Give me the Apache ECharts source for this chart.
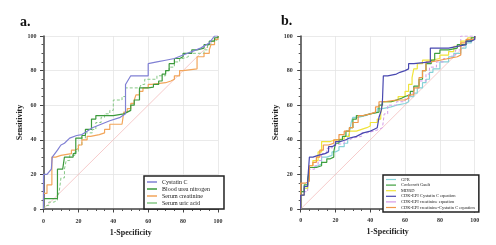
<!DOCTYPE html>
<html>
<head>
<meta charset="utf-8">
<script src="https://cdn.jsdelivr.net/npm/echarts@6/dist/echarts.min.js"></script>
<style>
  html, body { margin: 0; padding: 0; background: #fff; }
  #chart { width: 496px; height: 245px; }
</style>
</head>
<body>
<div id="chart"></div>
<script>
// axis ticks
const tickValues = [0, 20, 40, 60, 80, 100];
const diagonal = [[0, 0], [100, 100]];

// panel a.
const namesA = ["Cystatin C", "Blood urea nitrogen", "Serum creatinine", "Serum uric acid"];
const cystatinC = [[0,0],[0,20],[2,20],[4.5,23],[5,30],[8,34],[10,37],[12,38],[15,41],[19,42.5],[22,43],[25,45],[28,47],[33,49],[38,51],[44,53],[47,55],[47,72],[50,77],[60,77],[60,84],[65,85],[70,86],[75,87],[80,89],[85,91],[90,93],[95,96],[98,100],[100,100]];
const bloodUrea = [[0,0],[0,6],[8,6],[8,23],[11,24],[12,30],[17,32],[18.5,41],[22,42.5],[24,46],[27.5,52],[30,54],[40,55],[46,56],[48,57],[50,60],[52,63],[55,66],[55,70],[60,70.5],[63,72],[66,74],[68,78],[70,80],[72,84],[75,87],[78,88],[80,90],[85,92],[88,93],[92,95],[95,97],[98,99],[100,100]];
const serumCreat = [[0,0],[0,9],[2,9],[2,14],[4.8,14],[4.8,30],[7,31],[10,32],[16,34],[18,35],[20,37],[22,40],[25,42],[27,43],[32,44],[35,46],[38,49],[45,49],[46,56],[48,58],[50,61],[52,63],[53,66],[55,68],[57,70],[60,72],[62,73],[70,74],[73,75],[75,77],[78,80],[80,81],[88,81],[88,88],[92,90],[95,92],[96,95],[98,98],[100,100]];
const uricAcid = [[0,0],[1,2],[3,4],[6,5],[8,7],[9,10],[10,18],[12,23],[13,28],[15,31],[18,33],[20,37],[22,41],[24,44],[28,46],[30,50],[33,53],[35,55],[38,57],[40,63],[45,65],[47,70],[55,70],[56,72],[58,75],[62,75],[65,77],[70,80],[72,82],[75,85],[78,87],[80,88],[83,90],[90,90],[92,92],[94,95],[96,97],[98,98],[100,100]];

// panel b.
const namesB = ["GFR", "Cockcroft Gault", "MDRD", "CDK-EPI Cystatin C equation", "CDK-EPI creatinine equation", "CDK-EPI creatinine-Cystatin C equation"];
const gfr = [[0,0],[0,10],[2,12],[4,15],[5,24],[7,25],[10,26],[12,30],[15,31],[18,33],[20,34],[22,36],[25,38],[27,41],[28,44],[29,50],[30,53],[33,54],[37,55],[40,56],[44,58],[47,59],[52,60],[55,61],[60,62],[62,65],[65,67],[67,70],[70,73],[72,75],[74,79],[76,81],[80,85],[85,88],[88,90],[92,93],[95,96],[98,98],[100,100]];
const cockcroft = [[0,0],[0,10],[2,14],[4,16],[5,24],[9,25],[12,27],[15,29],[17,30],[19,33],[20,38],[22,40],[24,42],[26,45],[28,47],[30,52],[32,54],[36,55],[40,56],[45,60],[47,62],[52,63],[55,64],[58,65],[60,66],[63,68],[65,71],[68,75],[70,80],[72,84],[75,86],[77,90],[80,92],[85,93],[90,95],[95,97],[98,99],[100,100]];
const mdrd = [[0,0],[0,8],[2,12],[4,14],[5,25],[7,28],[10,33],[12,39],[17,40],[20,40.5],[25,42],[28,45],[32,46],[35,47],[38,48],[40,50],[44,52],[46,55],[47,62],[52,63],[56,65],[60,68],[62,72],[64,76],[65,81],[67,84],[70,86],[75,87],[80,89],[85,91],[88,94],[92,97],[96,99],[100,100]];
const ckdCys = [[0,0],[0,8],[2,13],[4,16],[4.5,17],[5,30],[7,31],[10,32],[14,33],[16,36],[18,37],[20,39],[23,40],[26,41],[28,42],[32,43],[34,44],[36,45],[40,46],[42,47],[44,48],[45,53],[46,56],[46.5,58],[47,63],[47.5,77],[50,78],[55,79],[57,80],[60,81],[62,84],[65,85],[74.5,85],[74.5,93],[80,93],[85,94],[90,95],[95,97],[98,98],[100,100]];
const ckdCreat = [[0,0],[0,8],[2,10],[4,12],[5,23],[8,25],[10,28],[12,32],[15,35],[18,37],[20,38],[25,40],[28,41],[30,42],[35,44],[38,45],[42,46],[45,47],[47,48],[48,55],[50,60],[55,62],[60,64],[63,67],[65,70],[68,74],[72,78],[74,82],[78,85],[82,87],[87,89],[89,92],[92,100],[100,100]];
const ckdCreatCys = [[0,0],[0,15],[3,16],[5,25],[7,27],[9,30],[11,34],[13,37],[16,38],[19,40],[22,43],[25,45],[28,47],[30,50],[33,54],[36,55],[40,56],[43,59],[45,62],[48,63],[55,63],[60,64],[62,66],[65,70],[68,76],[70,80],[72,85],[75,86],[80,87],[85,88],[90,89],[92,96],[95,98],[100,100]];

const serif = "Liberation Serif";

function makeAxes(idx, yOffset, xOffset) {
  const common = {
    gridIndex: idx,
    type: "value",
    min: 0,
    max: 100,
    interval: 20,
    axisLine: { show: true, lineStyle: { color: "#444", width: 1.5 } },
    axisTick: { show: true, length: 3.5, lineStyle: { color: "#444" } },
    minorTick: { show: true, splitNumber: 4, length: 2, lineStyle: { color: "#555" } },
    splitLine: { show: true, lineStyle: { color: "#e4e4e4", width: 0.8 } },
    axisLabel: { fontFamily: serif, fontWeight: "bold", fontSize: 6, color: "#333", margin: 4 },
    nameTextStyle: { fontFamily: serif, fontWeight: "bold", fontSize: 8, color: "#222" },
    nameLocation: "middle",
  };
  return {
    x: Object.assign({}, common, { name: "1-Specificity", nameGap: 12, offset: xOffset }),
    y: Object.assign({}, common, { name: "Sensitivity", nameGap: 16, offset: yOffset }),
  };
}

const axA = makeAxes(0, 3, 5);
const axB = makeAxes(1, 4, 4);

function curve(name, data, color, axis, opts) {
  return Object.assign({
    name: name,
    type: "line",
    data: data,
    xAxisIndex: axis,
    yAxisIndex: axis,
    symbol: "none",
    step: "end",
    color: color,
    lineStyle: { color: color, width: 1.2 },
    animation: false,
  }, opts || {});
}

function refLine(axis) {
  return {
    type: "line",
    data: diagonal,
    xAxisIndex: axis,
    yAxisIndex: axis,
    symbol: "none",
    lineStyle: { color: "#f2b4b4", width: 0.7 },
    z: 1,
    animation: false,
  };
}

const option = {
  animation: false,
  title: [
    { text: "a.", left: 15, top: 10, textStyle: { fontFamily: serif, fontWeight: "bold", fontSize: 14, color: "#111" } },
    { text: "b.", left: 276, top: 9, textStyle: { fontFamily: serif, fontWeight: "bold", fontSize: 14, color: "#111" } },
  ],
  grid: [
    { left: 43.5, top: 36, width: 174.5, height: 173 },
    { left: 300.7, top: 36, width: 174, height: 173 },
  ],
  xAxis: [axA.x, axB.x],
  yAxis: [axA.y, axB.y],
  legend: [
    {
      data: namesA,
      orient: "vertical",
      left: 144,
      top: 176,
      icon: "rect",
      itemWidth: 10,
      itemHeight: 1.5,
      itemGap: 1,
      padding: [3, 14, 3, 3],
      backgroundColor: "#fff",
      borderColor: "#222",
      borderWidth: 1.5,
      borderRadius: 0,
      textStyle: { fontFamily: serif, fontSize: 6, lineHeight: 5.8, color: "#222" },
    },
    {
      data: namesB,
      orient: "vertical",
      left: 383,
      top: 175,
      icon: "rect",
      itemWidth: 10,
      itemHeight: 1.2,
      itemGap: 0.6,
      padding: [2, 4, 2, 3],
      backgroundColor: "#fff",
      borderColor: "#222",
      borderWidth: 1.5,
      borderRadius: 0,
      textStyle: { fontFamily: serif, fontSize: 4.5, lineHeight: 4.5, color: "#222" },
    },
  ],
  series: [
    refLine(0),
    curve(namesA[3], uricAcid, "#86c886", 0, { lineStyle: { color: "#86c886", width: 1, type: [3, 2] } }),
    curve(namesA[2], serumCreat, "#f2a55a", 0),
    curve(namesA[1], bloodUrea, "#3c9a3c", 0),
    curve(namesA[0], cystatinC, "#8080d4", 0, { step: false }),
    refLine(1),
    curve(namesB[0], gfr, "#86d2d8", 1),
    curve(namesB[4], ckdCreat, "#d49ae6", 1, { lineStyle: { color: "#d49ae6", width: 1, type: [3, 2] } }),
    curve(namesB[2], mdrd, "#f0e43a", 1),
    curve(namesB[1], cockcroft, "#3f9f3f", 1),
    curve(namesB[5], ckdCreatCys, "#f0974a", 1),
    curve(namesB[3], ckdCys, "#4848b0", 1),
  ],
};

const chart = echarts.init(document.getElementById("chart"));
chart.setOption(option);
</script>
</body>
</html>
